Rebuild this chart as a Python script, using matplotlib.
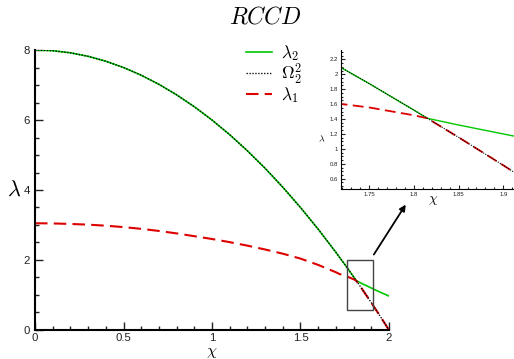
import numpy as np
import matplotlib
matplotlib.use("Agg")
import matplotlib.pyplot as plt
from matplotlib.patches import Rectangle
from matplotlib.ticker import MultipleLocator

plt.rcParams['font.family'] = ['Liberation Sans', 'DejaVu Sans']
plt.rcParams['mathtext.fontset'] = 'cm'

# values
chi = [0.0, 0.1, 0.2, 0.3, 0.4, 0.5, 0.6, 0.7, 0.8, 0.9, 1.0, 1.1, 1.2, 1.3,
       1.4, 1.5, 1.6, 1.7, 1.72, 1.75, 1.8, 1.815, 1.85, 1.9, 1.95, 2.0]
omega2_sq = [8.00, 7.98, 7.92, 7.82, 7.68, 7.50, 7.28, 7.02, 6.72, 6.38, 6.00,
             5.58, 5.12, 4.62, 4.08, 3.50, 2.88, 2.22, 2.08, 1.875, 1.52, 1.41,
             1.155, 0.78, 0.395, 0.0]
lambda1 = [3.05, 3.045, 3.03, 3.01, 2.98, 2.94, 2.89, 2.83, 2.76, 2.68, 2.60,
           2.51, 2.41, 2.30, 2.18, 2.04, 1.86, 1.65, 1.60, 1.555, 1.45, 1.41,
           1.155, 0.78, 0.395, 0.0]
lambda2 = [8.00, 7.98, 7.92, 7.82, 7.68, 7.50, 7.28, 7.02, 6.72, 6.38, 6.00,
           5.58, 5.12, 4.62, 4.08, 3.50, 2.88, 2.22, 2.08, 1.875, 1.52, 1.41,
           1.32, 1.20, 1.08, 0.97]

green = '#00c800'
red = '#dd0000'
tick_col = '#222222'


def draw_curves(ax, lw=1.2):
    l2, = ax.plot(chi, lambda2, color=green, lw=lw, label=r'$\lambda_2$')
    l1, = ax.plot(chi, lambda1, color=red, lw=lw + 0.3, ls=(0, (6, 3)), label=r'$\lambda_1$')
    om, = ax.plot(chi, omega2_sq, color='black', lw=lw * 0.8, ls=(0, (1, 1.2)), label=r'$\Omega_2^2$')
    return l2, om, l1


fig = plt.figure(figsize=(5.14, 3.59), dpi=100)

# main axes
ax = fig.add_axes([0.0681, 0.0808, 0.6887, 0.7799])
handles = draw_curves(ax)
ax.set_xlim(0, 2)
ax.set_ylim(0, 8)
for s in ['top', 'right']:
    ax.spines[s].set_visible(False)
for s in ['left', 'bottom']:
    ax.spines[s].set_linewidth(1.5)
ax.xaxis.set_major_locator(MultipleLocator(0.5))
ax.xaxis.set_minor_locator(MultipleLocator(0.1))
ax.yaxis.set_major_locator(MultipleLocator(2))
ax.yaxis.set_minor_locator(MultipleLocator(0.5))
ax.tick_params(which='both', direction='in', width=1.0, colors=tick_col, labelsize=8.2)
ax.tick_params(which='major', length=5.5)
ax.tick_params(which='minor', length=3)
ax.tick_params(axis='x', pad=2)
ax.set_xticks([0, 0.5, 1, 1.5, 2])
ax.set_xticklabels(['0', '0.5', '1', '1.5', '2'])
ax.set_xlabel(r'$\chi$', fontsize=11.5, va='top')
ax.xaxis.set_label_coords(0.5, -0.054)
ax.set_ylabel(r'$\lambda$', fontsize=16, rotation=0, va='center')
ax.yaxis.set_label_coords(-0.06, 0.5)

ax.add_patch(Rectangle((1.765, 0.57), 0.145, 1.43, fill=False, ec='#444444', lw=1.0, zorder=5))
ax.annotate('', xy=(2.103, 3.65), xytext=(1.906, 2.09), annotation_clip=False,
            arrowprops=dict(arrowstyle='-|>', lw=1.3, color='black', mutation_scale=9))

fig.text(0.516, 0.95, r'$RCCD$', fontsize=17, ha='center', va='center')

leg = ax.legend(handles=handles, loc='upper left', bbox_to_anchor=(0.551, 1.08),
                frameon=False, fontsize=12.5, handlelength=1.5, handletextpad=0.55,
                labelspacing=-0.08)

# inset
ins = fig.add_axes([0.6634, 0.4735, 0.3366, 0.3872])
draw_curves(ins, lw=1.0)
ins.set_xlim(1.7185, 1.912)
ins.set_ylim(0.462, 2.325)
for s in ['top', 'right']:
    ins.spines[s].set_visible(False)
ins.xaxis.set_major_locator(MultipleLocator(0.05))
ins.xaxis.set_minor_locator(MultipleLocator(0.01))
ins.yaxis.set_major_locator(MultipleLocator(0.2))
ins.yaxis.set_minor_locator(MultipleLocator(0.05))
ins.tick_params(which='both', direction='in', width=0.8, colors=tick_col, labelsize=4.3, pad=2)
ins.tick_params(which='major', length=3)
ins.tick_params(which='minor', length=1.5)
ins.xaxis.set_major_formatter(plt.FuncFormatter(lambda v, p: f'{v:g}'))
ins.yaxis.set_major_formatter(plt.FuncFormatter(lambda v, p: f'{v:g}'))
ins.set_xlabel(r'$\chi$', fontsize=10, va='center')
ins.xaxis.set_label_coords(0.53, -0.08)
ins.set_ylabel(r'$\lambda$', fontsize=7, rotation=0, va='center')
ins.yaxis.set_label_coords(-0.11, 0.355)

fig.savefig('out.png', dpi=100)
